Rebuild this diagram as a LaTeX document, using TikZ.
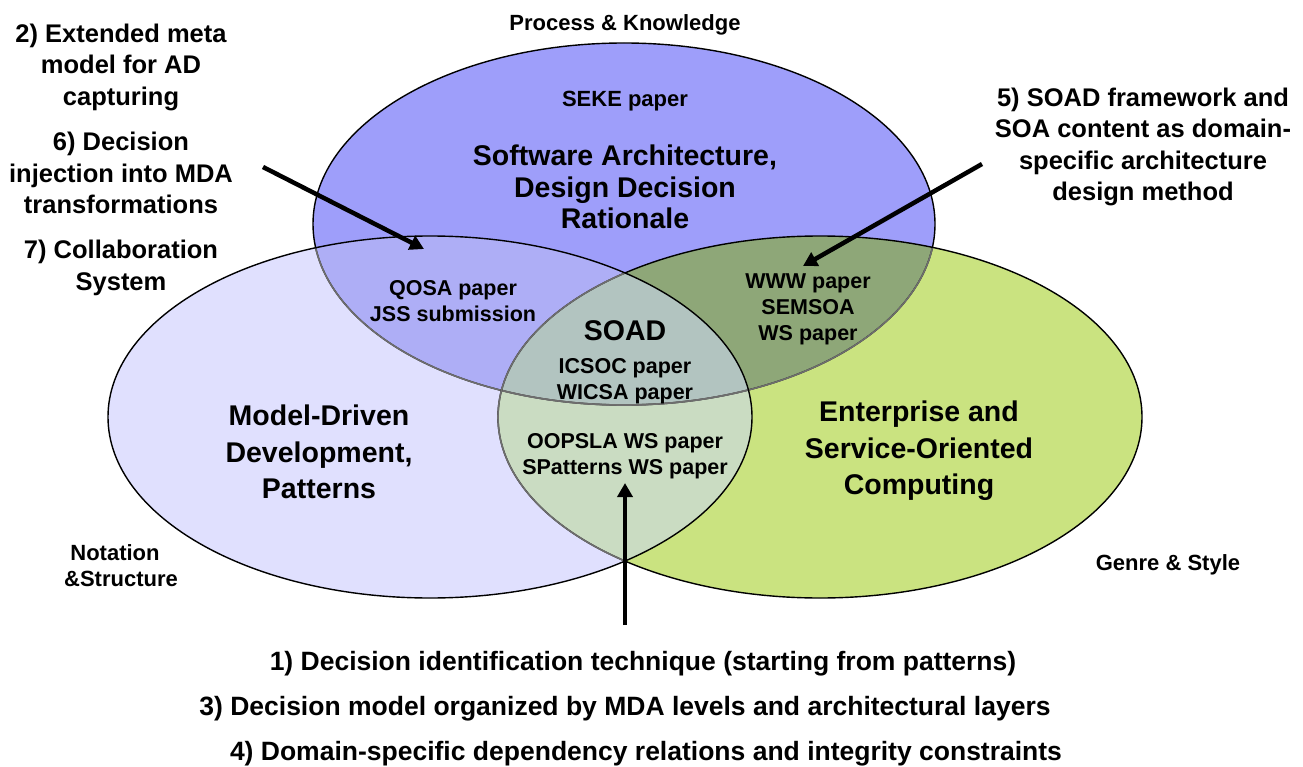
\documentclass[tikz,border=0pt]{standalone}
\usepackage{fontspec}
\setmainfont{Liberation Sans}
\usetikzlibrary{arrows.meta}
\definecolor{cTop}{RGB}{158,158,250}
\definecolor{cLeft}{RGB}{224,224,254}
\definecolor{cRight}{RGB}{202,227,128}
\definecolor{cTL}{RGB}{174,174,246}
\definecolor{cTR}{RGB}{142,167,120}
\definecolor{cLR}{RGB}{202,220,194}
\definecolor{cTLR}{RGB}{178,196,192}
\definecolor{cInner}{RGB}{110,110,110}
\begin{document}
\begin{tikzpicture}[x=1pt,y=-1pt,
  outline/.style={line width=1.4pt,draw=black},
  inneroutline/.style={line width=1.6pt,draw=cInner},
  smalltxt/.style={inner sep=0pt,align=center,font=\bfseries\fontsize{22}{26}\selectfont},
  papertxt/.style={inner sep=0pt,align=center,font=\bfseries\fontsize{21.5}{26}\selectfont},
  notetxt/.style={inner sep=0pt,align=center,font=\bfseries\fontsize{25.5}{31.5}\selectfont},
  titletxt/.style={inner sep=0pt,align=center,font=\bfseries\fontsize{28.5}{31.5}\selectfont},
  bigtitletxt/.style={inner sep=0pt,align=center,font=\bfseries\fontsize{28.5}{36.5}\selectfont},
  bottomtxt/.style={inner sep=0pt,font=\bfseries\fontsize{26.5}{30}\selectfont},
  arr/.style={line width=4.5pt,draw=black,-{Triangle[length=14pt,width=15pt]}}]
\useasboundingbox (0,0) rectangle (1303,767);
\fill[white] (0,0) rectangle (1303,767);
\def\TopE{(624,224) ellipse [x radius=311pt, y radius=181pt]}
\def\LeftE{(430,417) ellipse [x radius=322pt, y radius=181pt]}
\def\RightE{(820,417) ellipse [x radius=322pt, y radius=181pt]}
% fills
\fill[cLeft] \LeftE;
\fill[cRight] \RightE;
\fill[cTop] \TopE;
\begin{scope}\clip \TopE; \fill[cTL] \LeftE; \end{scope}
\begin{scope}\clip \TopE; \fill[cTR] \RightE; \end{scope}
\begin{scope}\clip \LeftE; \fill[cLR] \RightE; \end{scope}
\begin{scope}\clip \TopE; \clip \LeftE; \fill[cTLR] \RightE; \end{scope}
% outlines
\draw[outline] \TopE;
\begin{scope}\clip \LeftE; \draw[inneroutline] \TopE; \end{scope}
\begin{scope}\clip \RightE; \draw[inneroutline] \TopE; \end{scope}
\draw[outline] \RightE;
\begin{scope}\clip \LeftE; \draw[inneroutline] \RightE; \end{scope}
\draw[outline] \LeftE;
% texts inside
\node[smalltxt] (pk) at (625,25) {Process \& Knowledge};
\node[smalltxt] (seke) at (625,101) {SEKE paper};
\node[titletxt] (sa) at (625,187) {Software Architecture,\\Design Decision\\Rationale};
\node[papertxt] (qosa) at (453,301) {QOSA paper\\JSS submission};
\node[papertxt] (www) at (808,309) {WWW paper\\SEMSOA\\WS paper};
\node[titletxt] (soad) at (625,331) {SOAD};
\node[papertxt] (icsoc) at (625,381) {ICSOC paper\\WICSA paper};
\node[papertxt] (oopsla) at (625,456) {OOPSLA WS paper\\SPatterns WS paper};
\node[bigtitletxt] (mdd) at (319,452) {Model-Driven\\Development,\\Patterns};
\node[bigtitletxt] (eso) at (919,451) {Enterprise and\\Service-Oriented\\Computing};
\node[smalltxt] (nota) at (121,566) {\hspace*{-12pt}Notation\\\&Structure};
\node[smalltxt] (genre) at (1168,565) {Genre \& Style};
% annotations
\node[notetxt] (n2) at (121,67) {2) Extended meta\\model for AD\\capturing};
\node[notetxt] (n6) at (121,173) {6) Decision\\injection into MDA\\transformations};
\node[notetxt] (n7) at (121,268) {7) Collaboration\\System};
\node[notetxt] (n5) at (1143,147) {5) SOAD framework and\\SOA content as domain-\\specific architecture\\design method};
\node[bottomtxt] (b1) at (643,664) {1) Decision identification technique (starting from patterns)};
\node[bottomtxt] (b3) at (625,709) {3) Decision model organized by MDA levels and architectural layers};
\node[bottomtxt] (b4) at (646,754) {4) Domain-specific dependency relations and integrity constraints};
% arrows
\coordinate (a6s) at (263,167);
\coordinate (a6e) at (424,249);
\coordinate (a5s) at (982,164);
\coordinate (a5e) at (803,266);
\coordinate (a1s) at (625,625);
\coordinate (a1e) at (625,483);
\draw[arr] (a6s) -- (a6e);
\draw[arr] (a5s) -- (a5e);
\draw[arr] (a1s) -- (a1e);
\end{tikzpicture}
\end{document}
